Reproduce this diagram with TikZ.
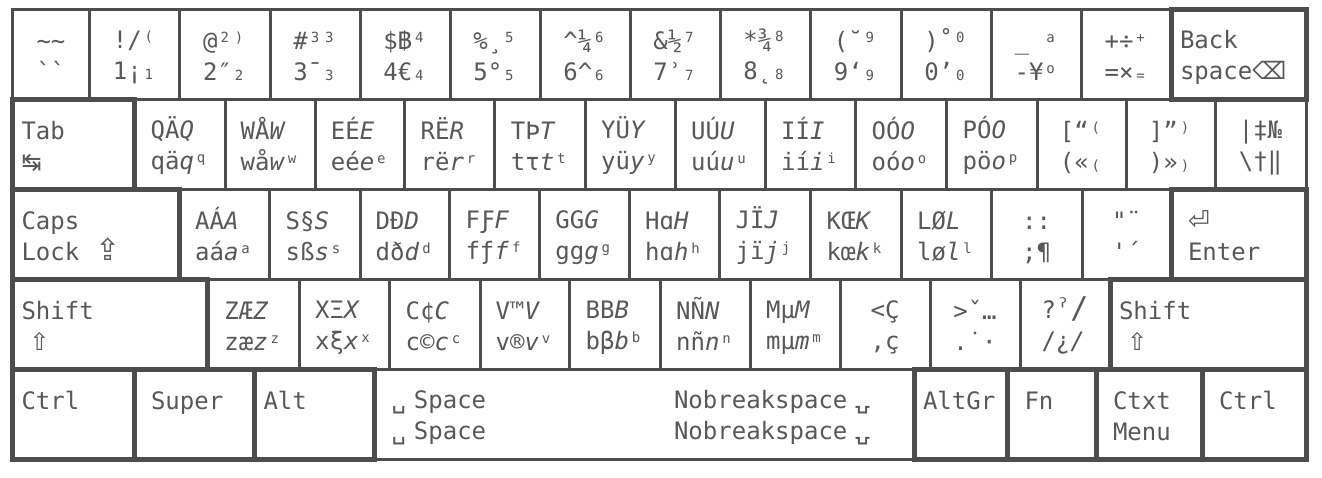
\documentclass[tikz,border=0pt]{standalone}
\usepackage{fontspec}
\setmonofont{DejaVu Sans Mono}
\newfontfamily\symfont{DejaVu Sans}
\newfontfamily\bahtfont{Loma}
\definecolor{keyline}{HTML}{4D4D4D}
\definecolor{keytext}{HTML}{585858}
\newcommand\keyfont{\ttfamily\fontsize{24}{31}\selectfont}
\newcommand\upsm[1]{\makebox[0.602em]{\raisebox{7pt}{\fontsize{14}{14}\selectfont#1}}}
\newcommand\dnsm[1]{\makebox[0.602em]{\fontsize{14}{14}\selectfont#1}}
\newcommand\keysym[2][24]{\makebox[0.602em][l]{\symfont\fontsize{#1}{#1}\selectfont#2}}
\newcommand\kl[2]{\rule[-4pt]{0pt}{29pt}#1\\\rule[-4pt]{0pt}{29pt}#2}
\newcommand\keycap[6][]{\node[keybox,#1,minimum width={#4-#3}] (#2) at ({(#3+#4)/2},{#5+45}) {\kl#6};}
\tikzset{keybox/.style={draw=keyline, line width=3pt, minimum height=90pt, inner sep=0pt,
    font=\keyfont, text=keytext, align=left},
  modkey/.style={line width=5pt},
}

\begin{document}
\begin{tikzpicture}[x=1pt,y=-1pt]
\path[use as bounding box, fill=white] (0,0) rectangle (1322,477);
% row 1
\keycap{kTilde}{12.5}{89.5}{9}{{\textasciitilde\textasciitilde}{\textasciigrave\textasciigrave}}
\keycap{kOne}{89.5}{179.5}{9}{{!/\upsm{(}}{1¡\dnsm{1}}}
\keycap{kTwo}{179.5}{270}{9}{{@\upsm{2}\upsm{)}}{2″\dnsm{2}}}
\keycap{kThree}{270}{360}{9}{{\#\upsm{3}\upsm{3}}{3¯\dnsm{3}}}
\keycap{kFour}{360}{450}{9}{{\$\makebox[0.602em]{\bahtfont ฿}\upsm{4}}{4€\dnsm{4}}}
\keycap{kFive}{450}{540}{9}{{\%¸\upsm{5}}{5°\dnsm{5}}}
\keycap{kSix}{540}{630}{9}{{\textasciicircum¼\upsm{6}}{6\textasciicircum\dnsm{6}}}
\keycap{kSeven}{630}{720}{9}{{\&½\upsm{7}}{7ʾ\dnsm{7}}}
\keycap{kEight}{720}{810}{9}{{*¾\upsm{8}}{8˛\dnsm{8}}}
\keycap{kNine}{810}{901}{9}{{(˘\upsm{9}}{9‘\dnsm{9}}}
\keycap{kZero}{901}{991}{9}{{)˚\upsm{0}}{0’\dnsm{0}}}
\keycap{kMinus}{991}{1081.5}{9}{{\_\ \upsm{a}}{-¥\upsm{o}}}
\keycap{kEqual}{1081.5}{1171}{9}{{+÷\upsm{+}}{=×\dnsm{=}}}
% row 2
\keycap{kQ}{134}{225}{99}{{QÄ\textit{Q}}{qä\textit{q}\upsm{q}}}
\keycap{kW}{225}{315}{99}{{WÅ\textit{W}}{wå\textit{w}\upsm{w}}}
\keycap{kE}{315}{404.5}{99}{{EÉ\textit{E}}{eé\textit{e}\upsm{e}}}
\keycap{kR}{404.5}{494.5}{99}{{RË\textit{R}}{rë\textit{r}\upsm{r}}}
\keycap{kT}{494.5}{585}{99}{{TÞ\textit{T}}{tτ\textit{t}\upsm{t}}}
\keycap{kY}{585}{675}{99}{{YÜ\textit{Y}}{yü\textit{y}\upsm{y}}}
\keycap{kU}{675}{765}{99}{{UÚ\textit{U}}{uú\textit{u}\upsm{u}}}
\keycap{kI}{765}{855}{99}{{IÍ\textit{I}}{ií\textit{i}\upsm{i}}}
\keycap{kO}{855}{946}{99}{{OÓ\textit{O}}{oó\textit{o}\upsm{o}}}
\keycap{kP}{946}{1037}{99}{{PÓ\textit{O}}{pö\textit{o}\upsm{p}}}
\keycap{kLbrack}{1037}{1126}{99}{{[“\upsm{(}}{(«\dnsm{(}}}
\keycap{kRbrack}{1126}{1215}{99}{{]”\upsm{)}}{)»\dnsm{)}}}
\keycap{kBslash}{1215}{1306}{99}{{|‡№}{\textbackslash†‖}}
% row 3
\keycap{kA}{179}{269}{189}{{AÁ\textit{A}}{aá\textit{a}\upsm{a}}}
\keycap{kS}{269}{360}{189}{{S§\textit{S}}{sß\textit{s}\upsm{s}}}
\keycap{kD}{360}{449.5}{189}{{DĐ\textit{D}}{dð\textit{d}\upsm{d}}}
\keycap{kF}{449.5}{539.5}{189}{{FƑ\textit{F}}{fƒ\textit{f}\upsm{f}}}
\keycap{kG}{539.5}{629}{189}{{GG\textit{G}}{gg\textit{g}\upsm{g}}}
\keycap{kH}{629}{719}{189}{{Hɑ\textit{H}}{hɑ\textit{h}\upsm{h}}}
\keycap{kJ}{719}{810}{189}{{JÏ\textit{J}}{jï\textit{j}\upsm{j}}}
\keycap{kK}{810}{901}{189}{{KŒ\textit{K}}{kœ\textit{k}\upsm{k}}}
\keycap{kL}{901}{991}{189}{{LØ\textit{L}}{lø\textit{l}\upsm{l}}}
\keycap{kSemi}{991}{1082}{189}{{::}{;¶}}
\keycap{kQuote}{1082}{1171}{189}{{"¨}{'´}}
% row 4
\keycap{kZ}{207.5}{299}{279}{{ZÆ\textit{Z}}{zæ\textit{z}\upsm{z}}}
\keycap{kX}{299}{389}{279}{{XΞ\textit{X}}{xξ\textit{x}\upsm{x}}}
\keycap{kC}{389}{480}{279}{{C¢\textit{C}}{c©\textit{c}\upsm{c}}}
\keycap{kV}{480}{569}{279}{{V™\textit{V}}{v®\textit{v}\upsm{v}}}
\keycap{kB}{569}{660}{279}{{BB\textit{B}}{bβ\textit{b}\upsm{b}}}
\keycap{kN}{660}{750}{279}{{NÑ\textit{N}}{nñ\textit{n}\upsm{n}}}
\keycap{kM}{750}{840}{279}{{Mµ\textit{M}}{mµ\textit{m}\upsm{m}}}
\keycap{kComma}{840}{930}{279}{{<Ç}{,ç}}
\keycap{kPeriod}{930}{1020}{279}{{>ˇ…}{.˙·}}
\keycap{kSlash}{1020}{1110}{279}{{?ˀ{\fontsize{30}{30}\selectfont/}}{/¿\textit{/}}}
% row 5
\keycap[text width=521.5pt]{kSpace}{374.5}{914}{369}{{\ ␣\ Space\hspace*{7.826em}Nobreakspace\ ⍽}{\ ␣\ Space\hspace*{7.826em}Nobreakspace\ ⍽}}
% modifier keys last, thick borders on top
\keycap[modkey,text width=117pt]{kBack}{1171}{1306}{9}{{Back}{space{\symfont ⌫}}}
\keycap[modkey,text width=103.5pt]{kTab}{12.5}{134}{99}{{Tab}{\keysym{↹}}}
\keycap[modkey,text width=148.5pt]{kCaps}{12.5}{179}{189}{{Caps}{Lock\ \ \keysym[30]{⇪}}}
\keycap[modkey,text width=117pt]{kEnter}{1171}{1306}{189}{{\ \keysym[26]{⏎}}{\ Enter}}
\keycap[modkey,text width=177pt]{kShiftL}{12.5}{207.5}{279}{{Shift}{\ \keysym{⇧}}}
\keycap[modkey,text width=178pt]{kShiftR}{1110}{1306}{279}{{Shift}{\ \keysym{⇧}}}
\keycap[modkey,text width=103.5pt]{kCtrlL}{12.5}{134}{369}{{Ctrl}{}}
\keycap[modkey,text width=102.5pt]{kSuper}{134}{254.5}{369}{{\ Super}{}}
\keycap[modkey,text width=102pt]{kAlt}{254.5}{374.5}{369}{{Alt}{}}
\keycap[modkey,text width=75.5pt]{kAltGr}{914}{1007.5}{369}{{AltGr}{}}
\keycap[modkey,text width=70.5pt]{kFn}{1007.5}{1096}{369}{{\ Fn}{}}
\keycap[modkey,text width=88pt]{kMenu}{1096}{1202}{369}{{\ Ctxt}{\ Menu}}
\keycap[modkey,text width=86pt]{kCtrlR}{1202}{1306}{369}{{\ Ctrl}{}}
\end{tikzpicture}
\end{document}
